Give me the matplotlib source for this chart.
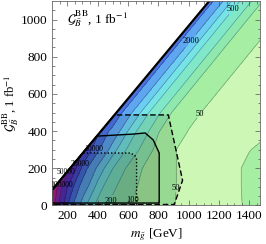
import numpy as np
import matplotlib.pyplot as plt
from matplotlib.patches import Polygon

plt.rcParams['font.family'] = ['Liberation Serif', 'DejaVu Serif']
plt.rcParams['mathtext.fontset'] = 'stix'

# grid of the scan (GeV)
m_gluino = [100, 200, 300, 400, 500, 600, 700, 800, 900, 1000, 1100, 1200, 1300, 1400, 1500]
m_grav = [0, 100, 200, 300, 400, 500, 600, 700, 800, 900, 1000, 1100]

# events in 1 fb^-1, one row per gravitino mass
events = [
    [160000, 10500, 1400, 390, 165, 107, 79, 65, 51, 42, 36, 38, 44, 56, 66],
    [230000, 20500, 3500, 790, 230, 130, 85, 66, 52, 42, 36, 38, 44, 58, 69],
    [200000, 71000, 8400, 1700, 510, 170, 97, 69, 52, 42, 36, 37, 44, 58, 66],
    [110000, 52000, 22000, 6000, 1350, 440, 150, 81, 52, 42, 37, 36, 42, 49, 58],
    [63000, 40000, 21000, 12000, 3700, 990, 300, 104, 69, 49, 42, 37, 35, 40, 45],
    [40000, 40000, 28000, 19500, 12500, 2800, 810, 230, 89, 60, 48, 40, 35, 33, 32],
    [40000, 40000, 40000, 28000, 19500, 12500, 2800, 810, 230, 89, 60, 48, 40, 35, 33],
    [40000, 40000, 40000, 40000, 28000, 19500, 12500, 2800, 810, 230, 89, 60, 48, 40, 35],
    [40000, 40000, 40000, 40000, 40000, 28000, 19500, 12500, 2800, 810, 230, 89, 60, 48, 40],
    [40000, 40000, 40000, 40000, 40000, 40000, 28000, 19500, 12500, 2800, 810, 230, 89, 60, 48],
    [40000, 40000, 40000, 40000, 40000, 40000, 40000, 28000, 19500, 12500, 2800, 810, 230, 89, 60],
    [40000, 40000, 40000, 40000, 40000, 40000, 40000, 40000, 28000, 19500, 12500, 2800, 810, 230, 89],
]

levels = [50, 100, 200, 500, 1000, 2000, 5000, 10000, 20000, 50000, 100000]
band_colors = ['#ccf7b4', '#a6eea2', '#8fe8ae', '#80e8c8', '#76e4e4', '#6ccff2',
               '#5ea6f0', '#4a74e4', '#4a4ed4', '#5c34c6', '#8a2cb8', '#c0209e']

# kinematic edge
edge_x = [100, 1136]
edge_y = [83, 1100]

# exclusion regions
solid_x = [100, 395, 635, 714, 767, 806, 806, 100]
solid_y = [83, 373, 384, 390, 352, 282, 13, 13]
dashed_x = [100, 511, 866, 960, 905, 100]
dashed_y = [83, 487, 487, 135, 5, 5]
dotted_x = [100, 303, 615, 645, 657, 657, 100]
dotted_y = [83, 282, 282, 270, 248, 3, 3]

# contour labels: open areas get matplotlib's inline labels,
# the crowded strip along the edge gets plain text
line_label_spots = [(1300, 1050), (1024, 879), (1090, 480), (912, 94), (463, 30), (628, 30)]
edge_labels = ['10000', '20000', '50000', '100000']
edge_label_x = [372, 285, 190, 160]
edge_label_y = [305, 225, 178, 110]

fig = plt.figure(figsize=(2.66, 2.44), dpi=100)
ax = fig.add_axes([0.1955, 0.158, 0.782, 0.838])

Z = np.log10(np.array(events, dtype=float))
lev = np.log10(levels)
cf = ax.contourf(m_gluino, m_grav, Z, levels=lev, colors=band_colors, extend='both')
cl = ax.contour(m_gluino, m_grav, Z, levels=lev, colors='k', linewidths=0.45, alpha=0.35)

allowed = Polygon([(100, 0), (edge_x[0], edge_y[0]), (edge_x[1], edge_y[1]),
                   (1500, 1100), (1500, 0)], closed=True, transform=ax.transData)
cf.set_clip_path(allowed)
cl.set_clip_path(allowed)

texts = ax.clabel(cl, manual=line_label_spots, fmt=lambda v: f"{10 ** v:.0f}",
                  fontsize=6, inline=True, inline_spacing=0, colors='k')
for t in texts:
    t.set_rotation(0)
    t.set_alpha(1)

for s, x, y in zip(edge_labels, edge_label_x, edge_label_y):
    ax.text(x, y, s, fontsize=5.5, ha='center', va='center')

for xs, ys, style in [(dashed_x, dashed_y, (0, (4, 2))),
                      (solid_x, solid_y, '-'),
                      (dotted_x, dotted_y, (0, (1, 1.5)))]:
    ax.fill(xs, ys, color='k', alpha=0.09, lw=0)
    ax.plot(xs + xs[:1], ys + ys[:1], color='k', lw=1.0, ls=style)

ax.plot(edge_x, edge_y, color='k', lw=1.6, solid_capstyle='butt')

ax.text(0.07, 0.915, r'$\mathcal{G}_{\tilde{B}}^{\rm BB}$, 1 fb$^{-1}$',
        transform=ax.transAxes, fontsize=9.5, va='center', ha='left')

ax.set_xlim(100, 1470)
ax.set_ylim(0, 1100)
ax.set_xticks([200, 400, 600, 800, 1000, 1200, 1400])
ax.set_yticks([0, 200, 400, 600, 800, 1000])
ax.set_xticks(np.arange(150, 1470, 50), minor=True)
ax.set_yticks(np.arange(50, 1100, 50), minor=True)
ax.tick_params(which='both', direction='in', top=True, right=True,
               labelsize=9.5, colors='#555555', labelcolor='k', width=0.5)
ax.tick_params(which='major', length=3.5)
ax.tick_params(which='minor', length=1.8)
for s in ax.spines.values():
    s.set_color('#666666')
    s.set_linewidth(0.6)

ax.set_xlabel(r'$m_{\tilde{g}}$ [GeV]', fontsize=9.5, labelpad=3)
ax.set_ylabel(r'$\mathcal{G}_{\tilde{B}}^{\rm BB}$, 1 fb$^{-1}$', fontsize=9, labelpad=0)

fig.savefig('out.png', dpi=100)
